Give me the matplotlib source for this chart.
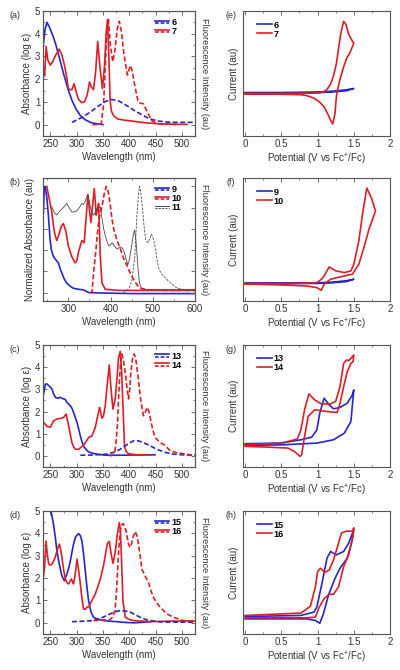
import matplotlib
matplotlib.use("Agg")
import matplotlib.pyplot as plt
from matplotlib.lines import Line2D
from matplotlib.legend_handler import HandlerBase
from matplotlib.ticker import MultipleLocator, NullFormatter, NullLocator

plt.rcParams['font.family'] = ['Liberation Sans', 'DejaVu Sans']
plt.rcParams['mathtext.fontset'] = 'custom'
plt.rcParams['mathtext.rm'] = 'Liberation Sans'
plt.rcParams['mathtext.it'] = 'Liberation Sans:italic'

BLUE = '#2727c8'
RED = '#dc1f26'
GRAY = '#4a4a4a'
AXC = '#555555'
TXT = '#333333'

# ---------------- Panel (a): 6 and 7 ----------------
A6_WL = [237, 240, 243.5, 248, 255, 260, 267, 275, 283, 291, 299, 307, 316, 326, 338, 350]
A6_ABS = [3.6, 4.2, 4.5, 4.3, 3.9, 3.55, 2.95, 2.25, 1.6, 1.07, 0.68, 0.4, 0.22, 0.1, 0.04, 0.0]
A6F_WL = [291, 300, 310, 326, 340, 355, 367, 380, 395, 410, 425, 439, 455, 470, 483, 500, 525]
A6F = [0.1, 0.2, 0.32, 0.55, 0.8, 1.02, 1.11, 1.04, 0.84, 0.62, 0.42, 0.25, 0.16, 0.12, 0.1, 0.1, 0.1]
A7_WL = [237, 239, 242, 245, 250, 255, 261, 267, 272, 277, 281, 284, 287, 291, 295, 299, 303, 309,
         315, 320, 324.5, 328, 332, 336, 340, 344, 349, 353, 356, 358.5, 361, 363.6, 366, 370, 378,
         390, 408, 430, 455, 480, 510]
A7_ABS = [2.5, 2.15, 3.43, 2.85, 2.62, 2.8, 3.1, 3.32, 3.05, 2.6, 2.1, 1.6, 1.54, 1.54, 1.8, 1.45,
          1.14, 0.97, 1.0, 1.3, 1.88, 1.65, 1.54, 2.3, 3.66, 2.6, 1.58, 2.6, 4.0, 4.62, 3.2, 1.07,
          0.6, 0.4, 0.25, 0.2, 0.15, 0.08, 0.04, 0.02, 0.01]
A7F_WL = [330, 342, 346.6, 351, 354, 357, 360.5, 364, 368.7, 373, 377, 381, 385, 390, 396.5, 400,
          402.8, 406, 411, 417, 422, 426.8, 433, 442.6, 450, 458, 475, 490]
A7F = [0.0, 0.0, 0.03, 0.84, 2.3, 3.96, 4.62, 3.5, 2.77, 3.3, 4.2, 4.55, 4.1, 3.07, 2.18, 2.45,
       2.6, 2.3, 1.66, 0.99, 0.94, 0.92, 0.62, 0.18, 0.08, 0.03, 0.02, 0.0]

# ---------------- Panel (b): 9, 10, 11 (normalized) ----------------
B9_WL = [241, 243, 245, 249, 252.7, 256.7, 260, 264.6, 270, 276.5, 280, 284.5, 290, 296, 304, 312,
         325, 336, 348, 380, 450, 520, 600]
B9 = [0.75, 0.99, 1.0, 0.9, 0.73, 0.5, 0.4, 0.34, 0.31, 0.28, 0.23, 0.185, 0.13, 0.09, 0.06, 0.04,
      0.03, 0.025, 0.0, -0.005, -0.01, -0.01, -0.01]
B10_WL = [248.8, 255, 260.7, 265, 268.6, 272.6, 278, 283, 288.3, 294, 300, 308, 316, 320, 324, 332,
          337.6, 342, 346.3, 350, 353.5, 357, 361.4, 364, 366, 369, 371.7, 373.5, 375.7, 379.7,
          387.6, 420, 500, 600]
B10 = [1.0, 0.88, 0.76, 0.62, 0.54, 0.49, 0.55, 0.62, 0.65, 0.58, 0.44, 0.34, 0.28, 0.3, 0.38, 0.49,
       0.47, 0.7, 0.92, 0.78, 0.66, 0.8, 0.98, 0.85, 0.73, 0.78, 0.84, 0.62, 0.34, 0.09, 0.03, 0.02,
       0.02, 0.02]
B10F_WL = [352, 356, 359.8, 363.8, 368, 371.7, 375, 379.7, 385, 390, 395, 399.5, 403, 407.5, 415.5,
           423.3, 430, 439.3, 447, 455, 463, 471, 490, 530, 600]
B10F = [0.0, 0.0, 0.185, 0.34, 0.52, 0.66, 0.74, 0.81, 0.93, 1.0, 0.94, 0.82, 0.7, 0.6, 0.49, 0.41,
        0.33, 0.25, 0.18, 0.12, 0.07, 0.04, 0.025, 0.02, 0.02]
B11_WL = [260.7, 266, 272.6, 280, 288, 296.4, 302, 308, 314, 320, 326, 332, 336, 341, 346.3, 352,
          356, 359.8, 364, 367.7, 371, 375.7, 379, 383.6, 390, 395.5, 400, 403.5, 409, 415.5, 419,
          423, 427, 431, 436, 440.7, 444, 448.8, 453, 456.7, 460, 463, 466, 468.6, 472, 476, 500,
          550, 600]
B11 = [0.81, 0.76, 0.73, 0.77, 0.8, 0.84, 0.8, 0.76, 0.76, 0.77, 0.8, 0.84, 0.83, 0.87, 0.93, 0.81,
       0.75, 0.73, 0.76, 0.79, 0.8, 0.81, 0.72, 0.6, 0.5, 0.44, 0.45, 0.47, 0.44, 0.41, 0.42, 0.43,
       0.42, 0.40, 0.33, 0.26, 0.3, 0.41, 0.52, 0.59, 0.5, 0.34, 0.18, 0.09, 0.05, 0.03, 0.03, 0.03,
       0.03]
B11F_WL = [430, 439, 445, 451, 457.5, 460, 463, 466, 468.6, 471, 475, 479, 482.9, 488.5, 492, 497,
           501, 506.7, 510, 514.6, 520, 526.5, 534, 542.4, 550, 558, 570, 582, 600]
B11F = [0.0, 0.02, 0.05, 0.12, 0.34, 0.55, 0.76, 0.92, 1.0, 0.96, 0.82, 0.64, 0.5, 0.47, 0.5, 0.55,
        0.51, 0.41, 0.31, 0.22, 0.18, 0.15, 0.12, 0.09, 0.065, 0.04, 0.03, 0.02, 0.02]

# ---------------- Panel (c): 13 and 14 ----------------
C13_WL = [237, 240.5, 244, 246.8, 250, 253, 256, 259.5, 264, 269, 272, 275, 278, 281.6, 285, 288,
          291, 294, 297, 300.7, 304, 307, 310, 313, 318, 322.7, 330, 338.6, 348, 357.6, 380, 410, 449]
C13 = [2.79, 3.24, 3.24, 3.17, 3.1, 3.02, 2.8, 2.64, 2.6, 2.64, 2.6, 2.57, 2.55, 2.41, 2.33, 2.26,
       2.15, 1.96, 1.76, 1.51, 1.2, 0.90, 0.65, 0.45, 0.28, 0.18, 0.12, 0.08, 0.05, 0.03, 0.03, 0.04,
       0.05]
C13F_WL = [307, 330, 357.6, 370, 382.8, 395, 408, 417, 427, 440, 452.5, 468, 484, 500, 525]
C13F = [0.03, 0.04, 0.08, 0.16, 0.3, 0.5, 0.68, 0.68, 0.6, 0.45, 0.3, 0.16, 0.08, 0.05, 0.03]
C14_WL = [237, 243.7, 250, 256, 262.5, 269, 275, 280, 284.8, 288, 291, 294, 297.4, 303.7, 308, 313,
          318, 322.7, 329, 335.4, 340, 343.6, 348, 351, 354.4, 358, 362, 365, 369, 373.3, 377, 379.5,
          382.8, 385.5, 388, 391, 394, 398.6, 415, 440]
C14 = [1.51, 1.33, 1.3, 1.58, 1.66, 1.69, 1.73, 1.89, 1.36, 0.95, 0.6, 0.42, 0.3, 0.3, 0.38, 0.48,
       0.65, 0.83, 0.9, 1.28, 1.8, 2.19, 1.7, 1.8, 2.26, 3.2, 4.1, 3.1, 2.11, 2.56, 3.6, 4.4, 4.71,
       3.8, 2.3, 0.44, 0.2, 0.1, 0.05, 0.05]
C14F_WL = [362.8, 370, 373, 375.5, 377.8, 379.5, 381.5, 383.5, 386, 389, 392.3, 395.5, 398.6, 401,
           403, 406, 409.4, 412.5, 415.7, 419, 422, 427, 431, 434.6, 438, 441.7, 445, 449, 458.7,
           468, 477.7, 487, 496.7, 510, 525]
C14F = [0.0, 0.05, 0.23, 0.8, 1.51, 2.5, 3.47, 4.2, 4.6, 4.3, 3.77, 3.1, 2.57, 3.0, 3.77, 4.35, 4.6,
        4.35, 3.77, 3.1, 2.49, 1.81, 2.0, 2.19, 1.95, 1.51, 1.15, 0.83, 0.6, 0.48, 0.23, 0.16, 0.12,
        0.07, 0.03]

# ---------------- Panel (d): 15 and 16 ----------------
D15_WL = [243, 248, 252, 256, 259.5, 262.5, 265.8, 269, 272, 276.6, 281.6, 285, 288, 291, 294, 298,
          303.7, 307, 310, 313, 316.4, 319.5, 322.7, 327, 332, 341, 351, 365, 376.6, 390, 408, 425,
          439.8]
D15 = [6.3, 5.5, 4.9, 4.4, 3.81, 3.2, 2.77, 2.4, 2.1, 1.88, 2.19, 2.45, 2.77, 3.15, 3.52, 3.85, 3.99,
       3.9, 3.66, 3.1, 2.33, 1.6, 0.99, 0.5, 0.25, 0.15, 0.1, 0.07, 0.05, 0.02, 0.0, 0.02, 0.05]
D15F_WL = [291, 310, 332, 345, 357.6, 370, 382.8, 392, 401.8, 410, 420.6, 430, 439.6, 455, 471, 500,
           525]
D15F = [0.05, 0.07, 0.1, 0.2, 0.33, 0.47, 0.55, 0.53, 0.48, 0.38, 0.25, 0.16, 0.1, 0.05, 0.03, 0.03,
        0.03]
D16_WL = [237, 239, 241.8, 244, 246.8, 250, 253, 256, 259.5, 263, 267, 269.5, 272, 275, 278.5, 281.5,
          284.8, 287.5, 289.8, 292, 294, 297.5, 300.7, 303.5, 307, 310, 313, 316, 319.5, 323, 326,
          330, 335.4, 340, 345, 351, 355, 358.5, 362, 365.5, 369, 373, 377, 381, 383, 384.7, 386.5,
          388, 392.3, 400, 408, 440, 480, 525]
D16 = [2.1, 2.5, 3.66, 3.1, 2.63, 2.58, 2.63, 2.75, 2.95, 3.25, 3.52, 3.3, 2.92, 2.4, 1.96, 1.8, 1.74,
       1.85, 1.96, 1.85, 1.74, 2.2, 2.85, 2.4, 1.74, 1.1, 0.62, 0.6, 0.7, 0.72, 0.85, 1.05, 1.29, 1.6,
       1.96, 2.55, 3.1, 3.55, 3.64, 3.1, 2.66, 3.1, 3.9, 4.48, 4.2, 3.2, 2.0, 0.99, 0.25, 0.15, 0.1,
       0.05, 0.08, 0.08]
D16F_WL = [332, 350, 363.8, 368, 373, 375.5, 377.8, 380, 382.8, 385, 388, 391, 394, 398.6, 401.8,
           404.5, 407, 411.3, 414.5, 417.5, 421, 424, 430, 436.6, 441, 446, 452, 458.7, 465, 471.4,
           484, 503, 525]
D16F = [0.1, 0.12, 0.15, 0.25, 0.55, 1.3, 2.33, 3.3, 4.1, 4.35, 4.44, 4.35, 4.1, 3.52, 3.37, 3.55,
        3.81, 4.08, 3.9, 3.52, 2.95, 2.4, 2.1, 1.81, 1.45, 1.14, 0.9, 0.7, 0.55, 0.4, 0.25, 0.1, 0.08]

# ---------------- Cyclic voltammograms (current in arbitrary units) ----------------
E6_V = [0, 0.5, 1.0, 1.2, 1.4, 1.5, 1.4, 1.2, 1.0, 0.5, 0]
E6_I = [34.8, 34.8, 35.2, 35.8, 37.0, 38.0, 36.2, 35.2, 34.6, 34.3, 34.3]
E7_V = [0, 0.5, 0.9, 1.0, 1.08, 1.13, 1.18, 1.22, 1.26, 1.29, 1.32, 1.36, 1.39, 1.43, 1.47, 1.50,
        1.45, 1.40, 1.35, 1.31, 1.28, 1.26, 1.24, 1.21, 1.18, 1.15, 1.09, 1.02, 0.95, 0.85, 0.77,
        0.5, 0.31, 0]
E7_I = [34.0, 34.0, 34.2, 34.4, 35.2, 37.2, 41.5, 48.2, 58, 70.2, 82, 91.7, 89.5, 81.2, 77, 74.4,
        67, 62, 53.5, 45.5, 38, 31.7, 17.9, 9.7, 12.5, 16.5, 23.4, 27.5, 30.3, 32.3, 33.0, 33.4,
        33.6, 33.5]

F9_V = [0, 0.5, 1.0, 1.2, 1.4, 1.5, 1.4, 1.2, 1.0, 0.5, 0]
F9_I = [14.6, 14.6, 14.8, 15.3, 16.5, 17.7, 15.8, 14.8, 14.3, 14.1, 14.1]
F10_V = [0, 0.5, 0.9, 0.99, 1.05, 1.09, 1.16, 1.25, 1.37, 1.46, 1.5, 1.57, 1.62, 1.68, 1.74, 1.80,
         1.71, 1.64, 1.57, 1.48, 1.31, 1.18, 1.09, 1.05, 0.99, 0.85, 0.53, 0]
F10_I = [14.2, 14.2, 14.6, 15.0, 17.5, 20.4, 27.7, 24.5, 23.1, 24.5, 29.9, 48.9, 70.7, 91.8, 84.3,
         73.3, 58.4, 43.5, 29.9, 21.8, 19.6, 17.7, 13.6, 8.7, 10.9, 12.2, 13.0, 13.8]

G13_V = [0, 0.5, 0.77, 0.92, 0.99, 1.03, 1.09, 1.16, 1.22, 1.31, 1.41, 1.48, 1.50, 1.46, 1.37,
         1.22, 0.99, 0.53, 0]
G13_I = [19.1, 19.6, 22.3, 24.5, 30.5, 44.1, 56.4, 50.9, 47.7, 48.8, 52.3, 59.1, 63.2, 37.3, 27.8,
         22.3, 19.6, 18.2, 17.7]
G14_V = [0, 0.5, 0.72, 0.77, 0.82, 0.88, 0.96, 1.05, 1.18, 1.25, 1.31, 1.36, 1.40, 1.43, 1.46, 1.50,
         1.49, 1.46, 1.41, 1.36, 1.31, 1.27, 1.13, 0.96, 0.87, 0.82, 0.78, 0.76, 0.68, 0.59, 0.31, 0]
G14_I = [18.2, 19.6, 22.9, 30.5, 46.9, 59.9, 55.0, 51.8, 51.8, 53.8, 65.9, 85.0, 87.7, 87.2, 89.0,
         91.8, 86.4, 85.0, 78.2, 65.9, 52.3, 44.7, 45.5, 46.9, 41.4, 25.0, 10.1, 8.7, 12.8, 15.5,
         16.3, 16.9]

H15_V = [0, 0.77, 0.95, 0.99, 1.06, 1.13, 1.18, 1.26, 1.36, 1.43, 1.50, 1.48, 1.41, 1.31, 1.24,
         1.15, 1.08, 1.03, 0.97, 0.85, 0]
H15_I = [14.2, 15.1, 17.8, 21.9, 41.1, 61.7, 67.1, 64.3, 67.1, 74.0, 85.0, 76.7, 61.7, 53.5, 45.2,
         31.5, 16.4, 8.7, 11.0, 12.3, 12.3]
H16_V = [0, 0.77, 0.90, 0.97, 1.0, 1.04, 1.10, 1.16, 1.22, 1.29, 1.33, 1.40, 1.48, 1.50, 1.49, 1.43,
         1.36, 1.29, 1.22, 1.16, 1.09, 1.02, 0.97, 0.85, 0]
H16_I = [15.1, 17.0, 22.5, 38.4, 50.7, 53.5, 50.0, 52.0, 60.3, 74.0, 82.2, 83.6, 83.6, 86.3, 80.0,
         64.4, 54.8, 38.4, 32.3, 32.3, 28.8, 21.5, 13.7, 13.2, 13.2]


class SolidDashHandler(HandlerBase):
    def create_artists(self, legend, orig_handle, xdescent, ydescent, width, height,
                       fontsize, trans):
        c = orig_handle.get_color()
        lw = orig_handle.get_linewidth()
        x0, x1 = -xdescent, -xdescent + width
        y_top = -ydescent + height * 0.72
        y_bot = -ydescent + height * 0.28
        l1 = Line2D([x0, x1], [y_top, y_top], color=c, lw=lw, transform=trans)
        l2 = Line2D([x0, x1], [y_bot, y_bot], color=c, lw=lw, ls=(0, (2.2, 1.2)), transform=trans)
        return [l1, l2]


fig = plt.figure(figsize=(4, 6.7), dpi=100)
W, H = 400.0, 670.0
rows = [(11, 136), (178, 301), (345, 467), (511, 634)]
LX0, LW = 43, 152
RX0, RW = 243, 147
FS = 7
LW_MAIN = 1.2


def px_axes(x0, w, top, bot):
    return fig.add_axes([x0 / W, 1 - bot / H, w / W, (bot - top) / H])


def style_axes(ax):
    for s in ax.spines.values():
        s.set_color(AXC)
        s.set_linewidth(0.8)
    ax.tick_params(which='both', direction='in', colors=AXC, labelcolor=TXT, labelsize=FS,
                   top=True, pad=2)
    ax.tick_params(which='major', length=3, width=0.6)
    ax.tick_params(which='minor', length=1.6, width=0.5)


spec_panels = [
    dict(label='(a)', xlim=(236, 525), xmaj=50, xmin=25, ylim=(-0.5, 5.0), ymaj=1, ymin=0.5,
         ylabel='Absorbance (log ε)', ylabels=True,
         abs_=[(A6_WL, A6_ABS, BLUE, LW_MAIN), (A7_WL, A7_ABS, RED, LW_MAIN)],
         fl=[(A6F_WL, A6F, BLUE, LW_MAIN), (A7F_WL, A7F, RED, LW_MAIN)],
         leg=[('6', BLUE, 1.2), ('7', RED, 1.2)]),
    dict(label='(b)', xlim=(240, 600), xmaj=100, xmin=50, ylim=(-0.08, 1.08), ymaj=0.2, ymin=None,
         ylabel='Normalized Absorbance (au)', ylabels=False,
         abs_=[(B9_WL, B9, BLUE, LW_MAIN), (B10_WL, B10, RED, LW_MAIN), (B11_WL, B11, GRAY, 0.6)],
         fl=[(B10F_WL, B10F, RED, LW_MAIN), (B11F_WL, B11F, GRAY, 0.6)],
         leg=[('9', BLUE, 1.2), ('10', RED, 1.2), ('11', GRAY, 0.7)]),
    dict(label='(c)', xlim=(236, 525), xmaj=50, xmin=25, ylim=(-0.5, 5.0), ymaj=1, ymin=0.5,
         ylabel='Absorbance (log ε)', ylabels=True,
         abs_=[(C13_WL, C13, BLUE, LW_MAIN), (C14_WL, C14, RED, LW_MAIN)],
         fl=[(C13F_WL, C13F, BLUE, LW_MAIN), (C14F_WL, C14F, RED, LW_MAIN)],
         leg=[('13', BLUE, 1.2), ('14', RED, 1.2)]),
    dict(label='(d)', xlim=(236, 525), xmaj=50, xmin=25, ylim=(-0.5, 5.0), ymaj=1, ymin=0.5,
         ylabel='Absorbance (log ε)', ylabels=True,
         abs_=[(D15_WL, D15, BLUE, LW_MAIN), (D16_WL, D16, RED, LW_MAIN)],
         fl=[(D15F_WL, D15F, BLUE, LW_MAIN), (D16F_WL, D16F, RED, LW_MAIN)],
         leg=[('15', BLUE, 1.2), ('16', RED, 1.2)]),
]

cv_panels = [
    dict(label='(e)', series=[(E6_V, E6_I, BLUE, '6'), (E7_V, E7_I, RED, '7')]),
    dict(label='(f)', series=[(F9_V, F9_I, BLUE, '9'), (F10_V, F10_I, RED, '10')]),
    dict(label='(g)', series=[(G13_V, G13_I, BLUE, '13'), (G14_V, G14_I, RED, '14')]),
    dict(label='(h)', series=[(H15_V, H15_I, BLUE, '15'), (H16_V, H16_I, RED, '16')]),
]

LEG_KW = dict(frameon=False, prop={'weight': 'bold', 'size': 6.5}, handlelength=1.6,
              handletextpad=0.25, labelspacing=0.0, borderpad=0.1, borderaxespad=0.0)

for (top, bot), p in zip(rows, spec_panels):
    ax = px_axes(LX0, LW, top, bot)
    ax2 = ax.twinx()
    for wl, v, c, lw in p['abs_']:
        ax.plot(wl, v, color=c, lw=lw, solid_joinstyle='round')
    for wl, v, c, lw in p['fl']:
        ax2.plot(wl, v, color=c, lw=lw, ls=(0, (3.0, 1.5)))
    ax.set_xlim(*p['xlim'])
    ax.set_ylim(*p['ylim'])
    ax2.set_ylim(*p['ylim'])
    style_axes(ax)
    style_axes(ax2)
    ax.tick_params(right=False)
    ax.xaxis.set_major_locator(MultipleLocator(p['xmaj']))
    ax.xaxis.set_minor_locator(MultipleLocator(p['xmin']))
    ax.yaxis.set_major_locator(MultipleLocator(p['ymaj']))
    ax2.yaxis.set_major_locator(MultipleLocator(p['ymaj']))
    if p['ymin']:
        ax.yaxis.set_minor_locator(MultipleLocator(p['ymin']))
        ax2.yaxis.set_minor_locator(MultipleLocator(p['ymin']))
    if not p['ylabels']:
        ax.yaxis.set_major_formatter(NullFormatter())
    ax2.yaxis.set_major_formatter(NullFormatter())
    ax.set_xlabel('Wavelength (nm)', fontsize=FS, color=TXT, labelpad=2)
    ax.set_ylabel(p['ylabel'], fontsize=FS, color=TXT, labelpad=2 if p['ylabels'] else 4)
    ax2.set_ylabel('Fluorescence Intensity (au)', fontsize=6.6, color=TXT, rotation=270,
                   labelpad=8)
    ax.text(-0.185, 0.965, p['label'], transform=ax.transAxes, fontsize=6.5, color=TXT,
            ha='center', va='center')
    handles = [Line2D([], [], color=c, lw=lw) for _, c, lw in p['leg']]
    ax2.legend(handles, [n for n, _, _ in p['leg']], loc='upper left',
               bbox_to_anchor=(0.73, 0.95), handler_map={Line2D: SolidDashHandler()}, **LEG_KW)

for (top, bot), p in zip(rows, cv_panels):
    ax = px_axes(RX0, RW, top, bot)
    for v, i, c, name in p['series']:
        ax.plot(v, i, color=c, lw=LW_MAIN, label=name)
    ax.set_xlim(-0.03, 2.0)
    ax.set_ylim(0, 100)
    style_axes(ax)
    ax.xaxis.set_major_locator(MultipleLocator(0.5))
    ax.xaxis.set_minor_locator(MultipleLocator(0.25))
    ax.xaxis.set_major_formatter(matplotlib.ticker.FuncFormatter(
        lambda x, pos: ('%g' % x)))
    ax.yaxis.set_major_locator(NullLocator())
    ax.yaxis.set_minor_locator(NullLocator())
    ax.set_xlabel('Potential (V vs Fc$^{+}$/Fc)', fontsize=FS, color=TXT, labelpad=2)
    ax.set_ylabel('Current (au)', fontsize=FS, color=TXT, labelpad=3)
    ax.text(-0.08, 0.965, p['label'], transform=ax.transAxes, fontsize=6.5, color=TXT,
            ha='center', va='center')
    ax.legend(loc='upper left', bbox_to_anchor=(0.09, 0.93), **LEG_KW)

fig.savefig('out.png', dpi=100)
